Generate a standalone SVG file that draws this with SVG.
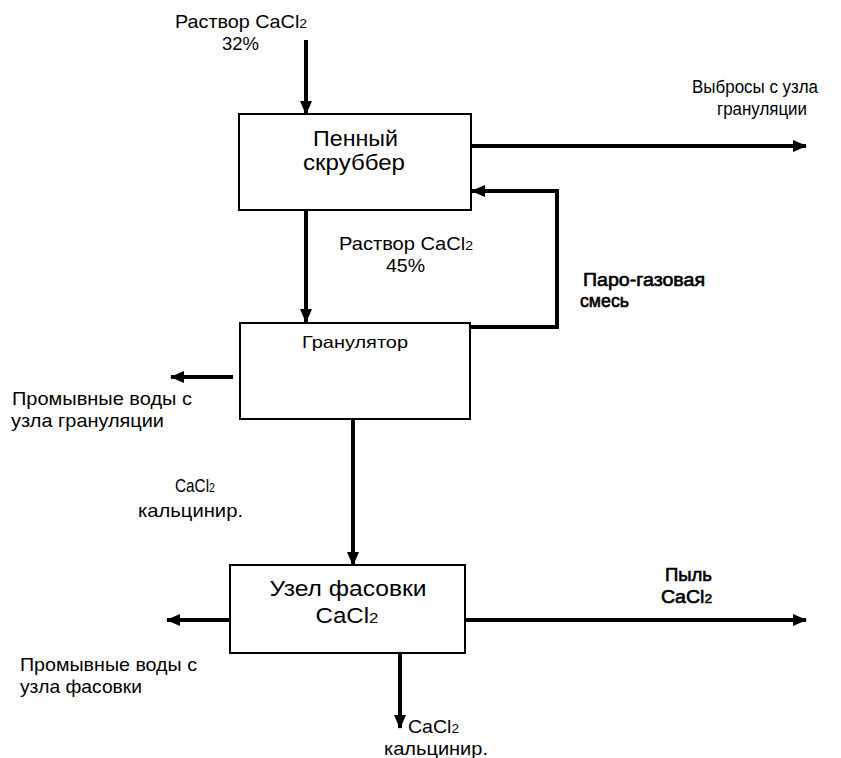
<svg xmlns="http://www.w3.org/2000/svg" width="841" height="758" viewBox="0 0 841 758">
<defs>
<marker id="ah" markerUnits="userSpaceOnUse" markerWidth="14" markerHeight="12" refX="13" refY="6" orient="auto">
<path d="M0,0 L14,6 L0,12 z" fill="#000"/>
</marker>
<style>
.box{fill:#fff;stroke:#000;stroke-width:2}
.c{fill:none;stroke:#000;stroke-width:4;marker-end:url(#ah)}
text{font-family:"Liberation Sans",Arial,sans-serif;fill:#000}
.l{font-size:18.5px}
.v{font-size:17.5px}
.b{font-size:22px}
.g{font-size:16.5px}
.w{font-size:18px;stroke:#000;stroke-width:0.6}
.m{text-anchor:middle}
.s{font-size:0.7em}
</style>
</defs>
<rect width="841" height="758" fill="#fff"/>
<g id="connectors">
<line class="c" x1="306" y1="40" x2="306" y2="114"/>
<line class="c" x1="471" y1="146" x2="806" y2="146"/>
<path class="c" d="M471,327 H557 V191 H472"/>
<line class="c" x1="306" y1="210" x2="306" y2="322"/>
<line class="c" x1="233" y1="377" x2="171" y2="377"/>
<line class="c" x1="353" y1="419" x2="353" y2="565"/>
<line class="c" x1="230" y1="620" x2="167" y2="620"/>
<line class="c" x1="465" y1="620" x2="806" y2="620"/>
<line class="c" x1="400" y1="653" x2="400" y2="728"/>
</g>
<g id="scrubber">
<rect class="box" x="239" y="114" width="232" height="96"/>
<text class="b m" x="355.5" y="146" textLength="85" lengthAdjust="spacingAndGlyphs">Пенный</text>
<text class="b m" x="354" y="170" textLength="102" lengthAdjust="spacingAndGlyphs">скруббер</text>
</g>
<g id="granulator">
<rect class="box" x="240" y="323" width="230" height="96"/>
<text class="g m" x="355" y="348" textLength="106" lengthAdjust="spacingAndGlyphs">Гранулятор</text>
</g>
<g id="packing">
<rect class="box" x="230" y="565" width="235" height="88"/>
<text class="b m" x="348" y="596" textLength="157" lengthAdjust="spacingAndGlyphs">Узел фасовки</text>
<text class="b m" x="347" y="623" textLength="63" lengthAdjust="spacingAndGlyphs">CaCl<tspan class="s">2</tspan></text>
</g>
<g id="labels">
<text class="l" x="175" y="28" textLength="132" lengthAdjust="spacingAndGlyphs">Раствор CaCl<tspan class="s">2</tspan></text>
<text class="l m" x="240.5" y="50" textLength="37" lengthAdjust="spacingAndGlyphs">32%</text>
<text class="v" x="692" y="93" textLength="126" lengthAdjust="spacingAndGlyphs">Выбросы с узла</text>
<text class="v" x="717" y="115" textLength="90" lengthAdjust="spacingAndGlyphs">грануляции</text>
<text class="l" x="339" y="250" textLength="134" lengthAdjust="spacingAndGlyphs">Раствор CaCl<tspan class="s">2</tspan></text>
<text class="l m" x="405.5" y="272" textLength="39" lengthAdjust="spacingAndGlyphs">45%</text>
<text class="w" x="583" y="286" textLength="122" lengthAdjust="spacingAndGlyphs">Паро-газовая</text>
<text class="w" x="580" y="307" textLength="49" lengthAdjust="spacingAndGlyphs">смесь</text>
<text class="l" x="12" y="405" textLength="180" lengthAdjust="spacingAndGlyphs">Промывные воды с</text>
<text class="l" x="11" y="427" textLength="153" lengthAdjust="spacingAndGlyphs">узла грануляции</text>
<text class="l m" x="195" y="492" textLength="40" lengthAdjust="spacingAndGlyphs">CaCl<tspan class="s">2</tspan></text>
<text class="l m" x="190.5" y="517" textLength="105" lengthAdjust="spacingAndGlyphs">кальцинир.</text>
<text class="w m" x="688.5" y="581" textLength="47" lengthAdjust="spacingAndGlyphs">Пыль</text>
<text class="w m" x="686.5" y="603" textLength="51" lengthAdjust="spacingAndGlyphs">CaCl<tspan class="s">2</tspan></text>
<text class="l" x="20" y="671" textLength="177" lengthAdjust="spacingAndGlyphs">Промывные воды с</text>
<text class="l" x="20" y="693" textLength="122" lengthAdjust="spacingAndGlyphs">узла фасовки</text>
<text class="l" x="408" y="733" textLength="51" lengthAdjust="spacingAndGlyphs">CaCl<tspan class="s">2</tspan></text>
<text class="l" x="384" y="755" textLength="104" lengthAdjust="spacingAndGlyphs">кальцинир.</text>
</g>
</svg>
